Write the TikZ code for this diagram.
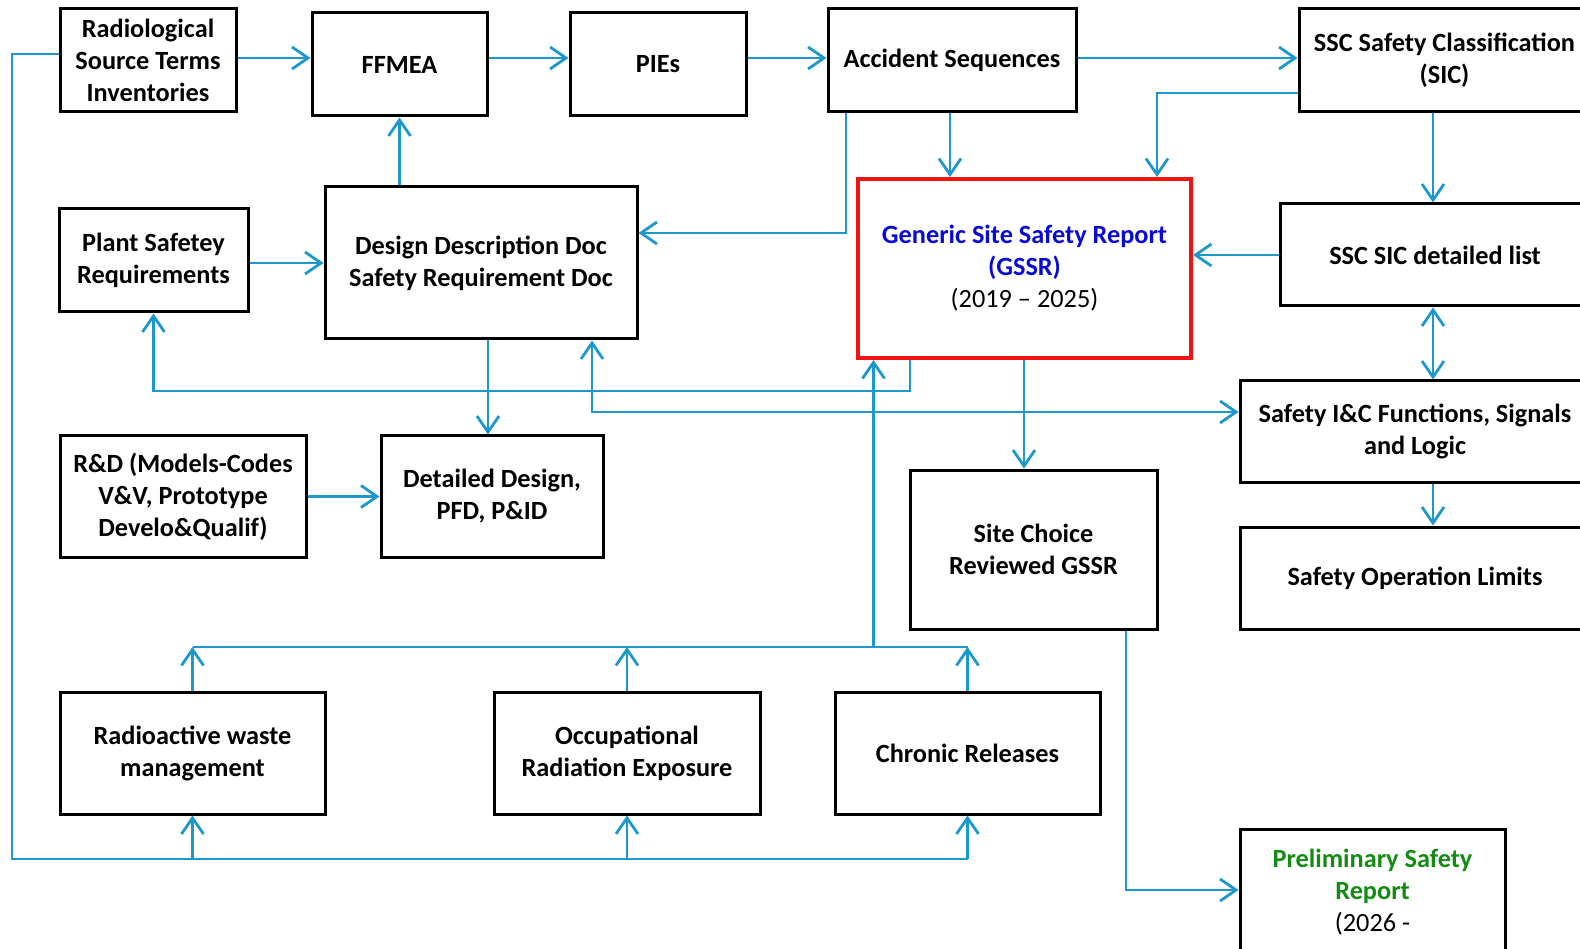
\documentclass[tikz,border=0pt]{standalone}
\usepackage{fontspec}
\setmainfont{Carlito}
\usetikzlibrary{arrows.meta}
\definecolor{conn}{RGB}{28,152,205}
\definecolor{gssrblue}{RGB}{10,10,215}
\definecolor{pregreen}{RGB}{20,140,20}
\definecolor{boxred}{RGB}{240,20,20}
\begin{document}
\begin{tikzpicture}[x=1pt,y=-1pt,
  box/.style={draw=black,line width=3pt,inner sep=0pt,align=center,
    font=\fontsize{26.3}{32}\selectfont\bfseries},
  arr/.style={draw=conn,line width=2.8pt,-{Straight Barb[length=16pt,width=22pt,line width=2.8pt]}},
  darr/.style={draw=conn,line width=2.8pt,{Straight Barb[length=16pt,width=22pt,line width=2.8pt]}-{Straight Barb[length=16pt,width=22pt,line width=2.8pt]}},
  ln/.style={draw=conn,line width=2.8pt}]
\useasboundingbox (0,0) rectangle (1580,949);
\clip (0,0) rectangle (1580,949);
\fill[white] (0,0) rectangle (1580,949);
% boxes
\node[box,minimum width=176pt,minimum height=103pt] (rad) at (148,60.5) {Radiological\\Source Terms\\Inventories};
\node[box,minimum width=175pt,minimum height=103pt] (ffmea) at (399.5,64.5) {FFMEA};
\node[box,minimum width=176pt,minimum height=103pt] (pies) at (658,64.5) {PIEs};
\node[box,minimum width=248pt,minimum height=103pt] (acc) at (952,60.5) {Accident Sequences};
\node[box,minimum width=291pt,minimum height=103pt] (ssc) at (1444.5,60.5) {SSC Safety Classification\\(SIC)};
\node[box,minimum width=189pt,minimum height=103pt] (plant) at (153.5,260.5) {Plant Safetey\\Requirements};
\node[box,minimum width=312pt,minimum height=152pt] (ddd) at (481,263) {Design Description Doc\\Safety Requirement Doc};
\node[box,draw=boxred,line width=4pt,minimum width=333pt,minimum height=179pt] (gssr) at (1024.5,268.5)
  {\textcolor{gssrblue}{Generic Site Safety Report}\\\textcolor{gssrblue}{(GSSR)}\\{\mdseries (2019 -- 2025)}};
\node[box,minimum width=310pt,minimum height=102pt] (sic) at (1435,255) {SSC SIC detailed list};
\node[box,minimum width=350pt,minimum height=101pt] (ic) at (1415,431.5) {Safety I\&C Functions, Signals\\and Logic};
\node[box,minimum width=246pt,minimum height=121pt] (rd) at (183,496.5) {R\&D (Models-Codes\\V\&V, Prototype\\Develo\&Qualif)};
\node[box,minimum width=222pt,minimum height=121pt] (det) at (492,496.5) {Detailed Design,\\PFD, P\&ID};
\node[box,minimum width=247pt,minimum height=159pt] (site) at (1033.5,549.5) {Site Choice\\Reviewed GSSR};
\node[box,minimum width=350pt,minimum height=102pt] (sol) at (1415,578) {Safety Operation Limits};
\node[box,minimum width=265pt,minimum height=122pt] (rw) at (192.5,753) {Radioactive waste\\management};
\node[box,minimum width=266pt,minimum height=122pt] (occ) at (627,753) {Occupational\\Radiation Exposure};
\node[box,minimum width=265pt,minimum height=122pt] (chr) at (967.5,753) {Chronic Releases};
\node[box,minimum width=265pt,minimum height=126pt] (pre) at (1372.5,892)
  {\textcolor{pregreen}{Preliminary Safety}\\\textcolor{pregreen}{Report}\\{\mdseries (2026 -}};
% top row
\draw[arr] (rad.east |- 0,58) -- (ffmea.west |- 0,58);
\draw[arr] (ffmea.east |- 0,58) -- (pies.west |- 0,58);
\draw[arr] (pies.east |- 0,58) -- (acc.west |- 0,58);
\draw[arr] (acc.east |- 0,58) -- (ssc.west |- 0,58);
% design / ffmea
\draw[arr] (ffmea.south |- ddd.north) -- (ffmea.south);
\draw[arr] (plant.east |- ddd.west) -- (ddd.west);
\draw[arr] (acc.south -| 846,0) |- (ddd.east |- 0,233);
\draw[arr] (acc.south -| 950,0) -- (gssr.north -| 950,0);
\draw[arr] (ssc.west |- 0,93) -| (gssr.north -| 1157,0);
\draw[arr] (ssc.south -| 1433,0) -- (sic.north -| 1433,0);
\draw[arr] (sic.west) -- (gssr.east |- sic.west);
\draw[darr] (sic.south -| 1433,0) -- (ic.north -| 1433,0);
\draw[arr] (ic.south -| 1433,0) -- (sol.north -| 1433,0);
\coordinate (gp) at (910,391);
\draw[arr] (gssr.south -| gp) -- (gp) -| (plant.south);
\draw[darr] (ddd.south -| 592,0) |- (ic.west |- 0,412);
\draw[arr] (gssr.south -| 1024,0) -- (site.north -| 1024,0);
\draw[arr] (ddd.south -| 488,0) -- (det.north -| 488,0);
\draw[arr] (rd.east) -- (det.west);
\draw[arr] (site.south -| 1126,0) |- (pre.west |- 0,890);
% bottom feedback
\coordinate (bl) at (12,859);
\draw[ln] (rad.west |- 0,54) -| (bl) -- (bl -| chr.south);
\draw[arr] (bl -| rw.south) -- (rw.south);
\draw[arr] (bl -| occ.south) -- (occ.south);
\draw[arr] (bl -| chr.south) -- (chr.south);
\coordinate (tl) at (192.5,647);
\draw[ln] (tl) -- (tl -| chr.north);
\draw[arr] (rw.north) -- (rw.north |- tl);
\draw[arr] (occ.north) -- (occ.north |- tl);
\draw[arr] (chr.north) -- (chr.north |- tl);
\draw[arr] (tl -| 873.5,0) -- (gssr.south -| 873.5,0);
\end{tikzpicture}
\end{document}
